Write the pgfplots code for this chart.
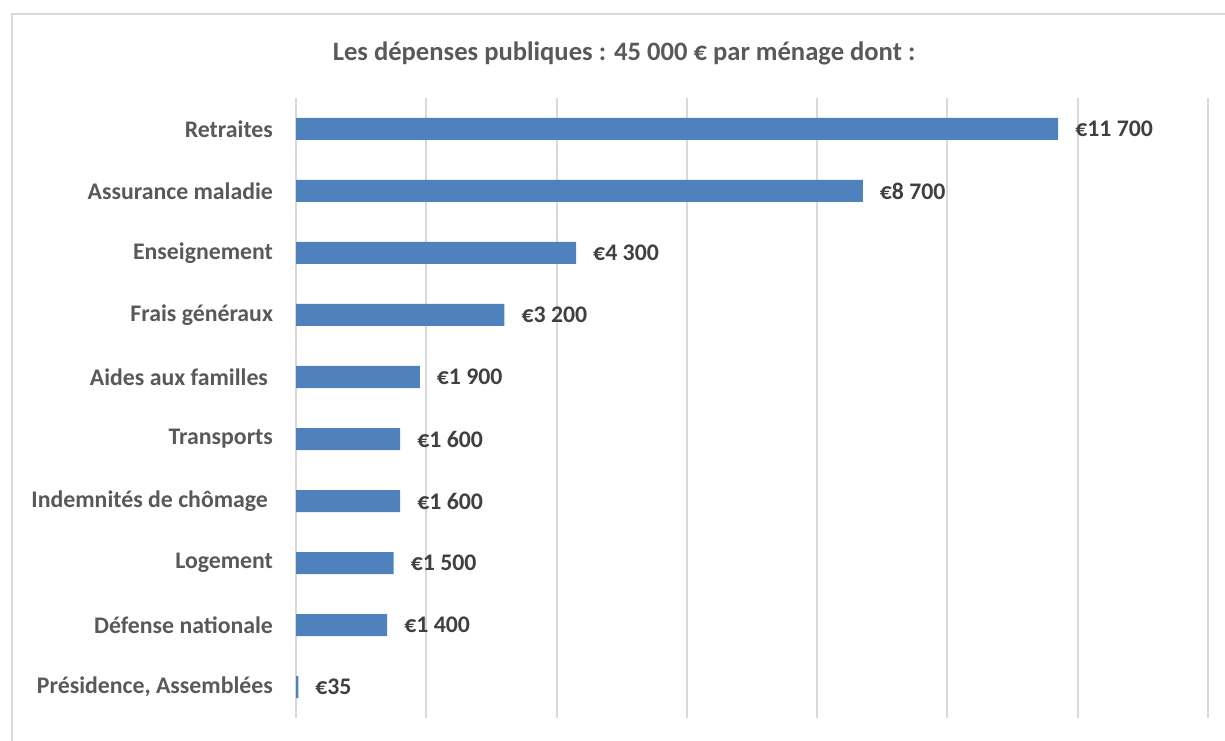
\documentclass[border=0pt]{standalone}
\usepackage{fontspec}
\setmainfont{Carlito}
\usepackage{pgfplots}
\pgfplotsset{compat=1.18}
\definecolor{barblue}{HTML}{4F81BD}
\definecolor{gridgray}{HTML}{D9D9D9}
\definecolor{labgray}{HTML}{595959}
\definecolor{datgray}{HTML}{404040}
\begin{document}
\begin{tikzpicture}[x=0.5pt,y=0.5pt]
\path[use as bounding box] (0,0) rectangle (1225,740);
\draw[gridgray, line width=1pt] (12,-10) -- (12,726) -- (1240,726);
\node[font=\bfseries\fontsize{13.3}{16}\selectfont, text=labgray] at (624,687) {Les dépenses publiques : 45 000 € par ménage dont :};
\begin{axis}[
  at={(148pt,11pt)}, anchor=south west,
  width=456pt, height=310pt, scale only axis,
  xmin=0, xmax=14000, ymin=0.5, ymax=10.5,
  xtick={0,2000,...,14000}, xticklabels={}, scaled x ticks=false,
  xmajorgrids, grid style={gridgray, line width=1pt},
  ytick={1,...,10},
  yticklabels={{Présidence, Assemblées}, Défense nationale, Logement, Indemnités de chômage\kern2.5pt, Transports, Aides aux familles\kern2.5pt, Frais généraux, Enseignement, Assurance maladie, Retraites},
  axis line style={draw=none}, major tick length=0pt,
  y tick label style={font=\bfseries\fontsize{11.9}{14}\selectfont, text=labgray, anchor=east, xshift=-8pt},
  nodes near coords, point meta=explicit symbolic,
  nodes near coords style={font=\bfseries\fontsize{11.9}{14}\selectfont, text=datgray, anchor=west, xshift=5pt},
]
\addplot[xbar, bar width=11pt, fill=barblue, draw=none] table[x=x, y=y, meta=lab, col sep=comma, row sep=\\] {
x,y,lab\\
11700,10,€11 700\\
8700,9,€8 700\\
4300,8,€4 300\\
3200,7,€3 200\\
1900,6,€1 900\\
1600,5,€1 600\\
1600,4,€1 600\\
1500,3,€1 500\\
1400,2,€1 400\\
35,1,€35\\
};
\end{axis}
\end{tikzpicture}
\end{document}
